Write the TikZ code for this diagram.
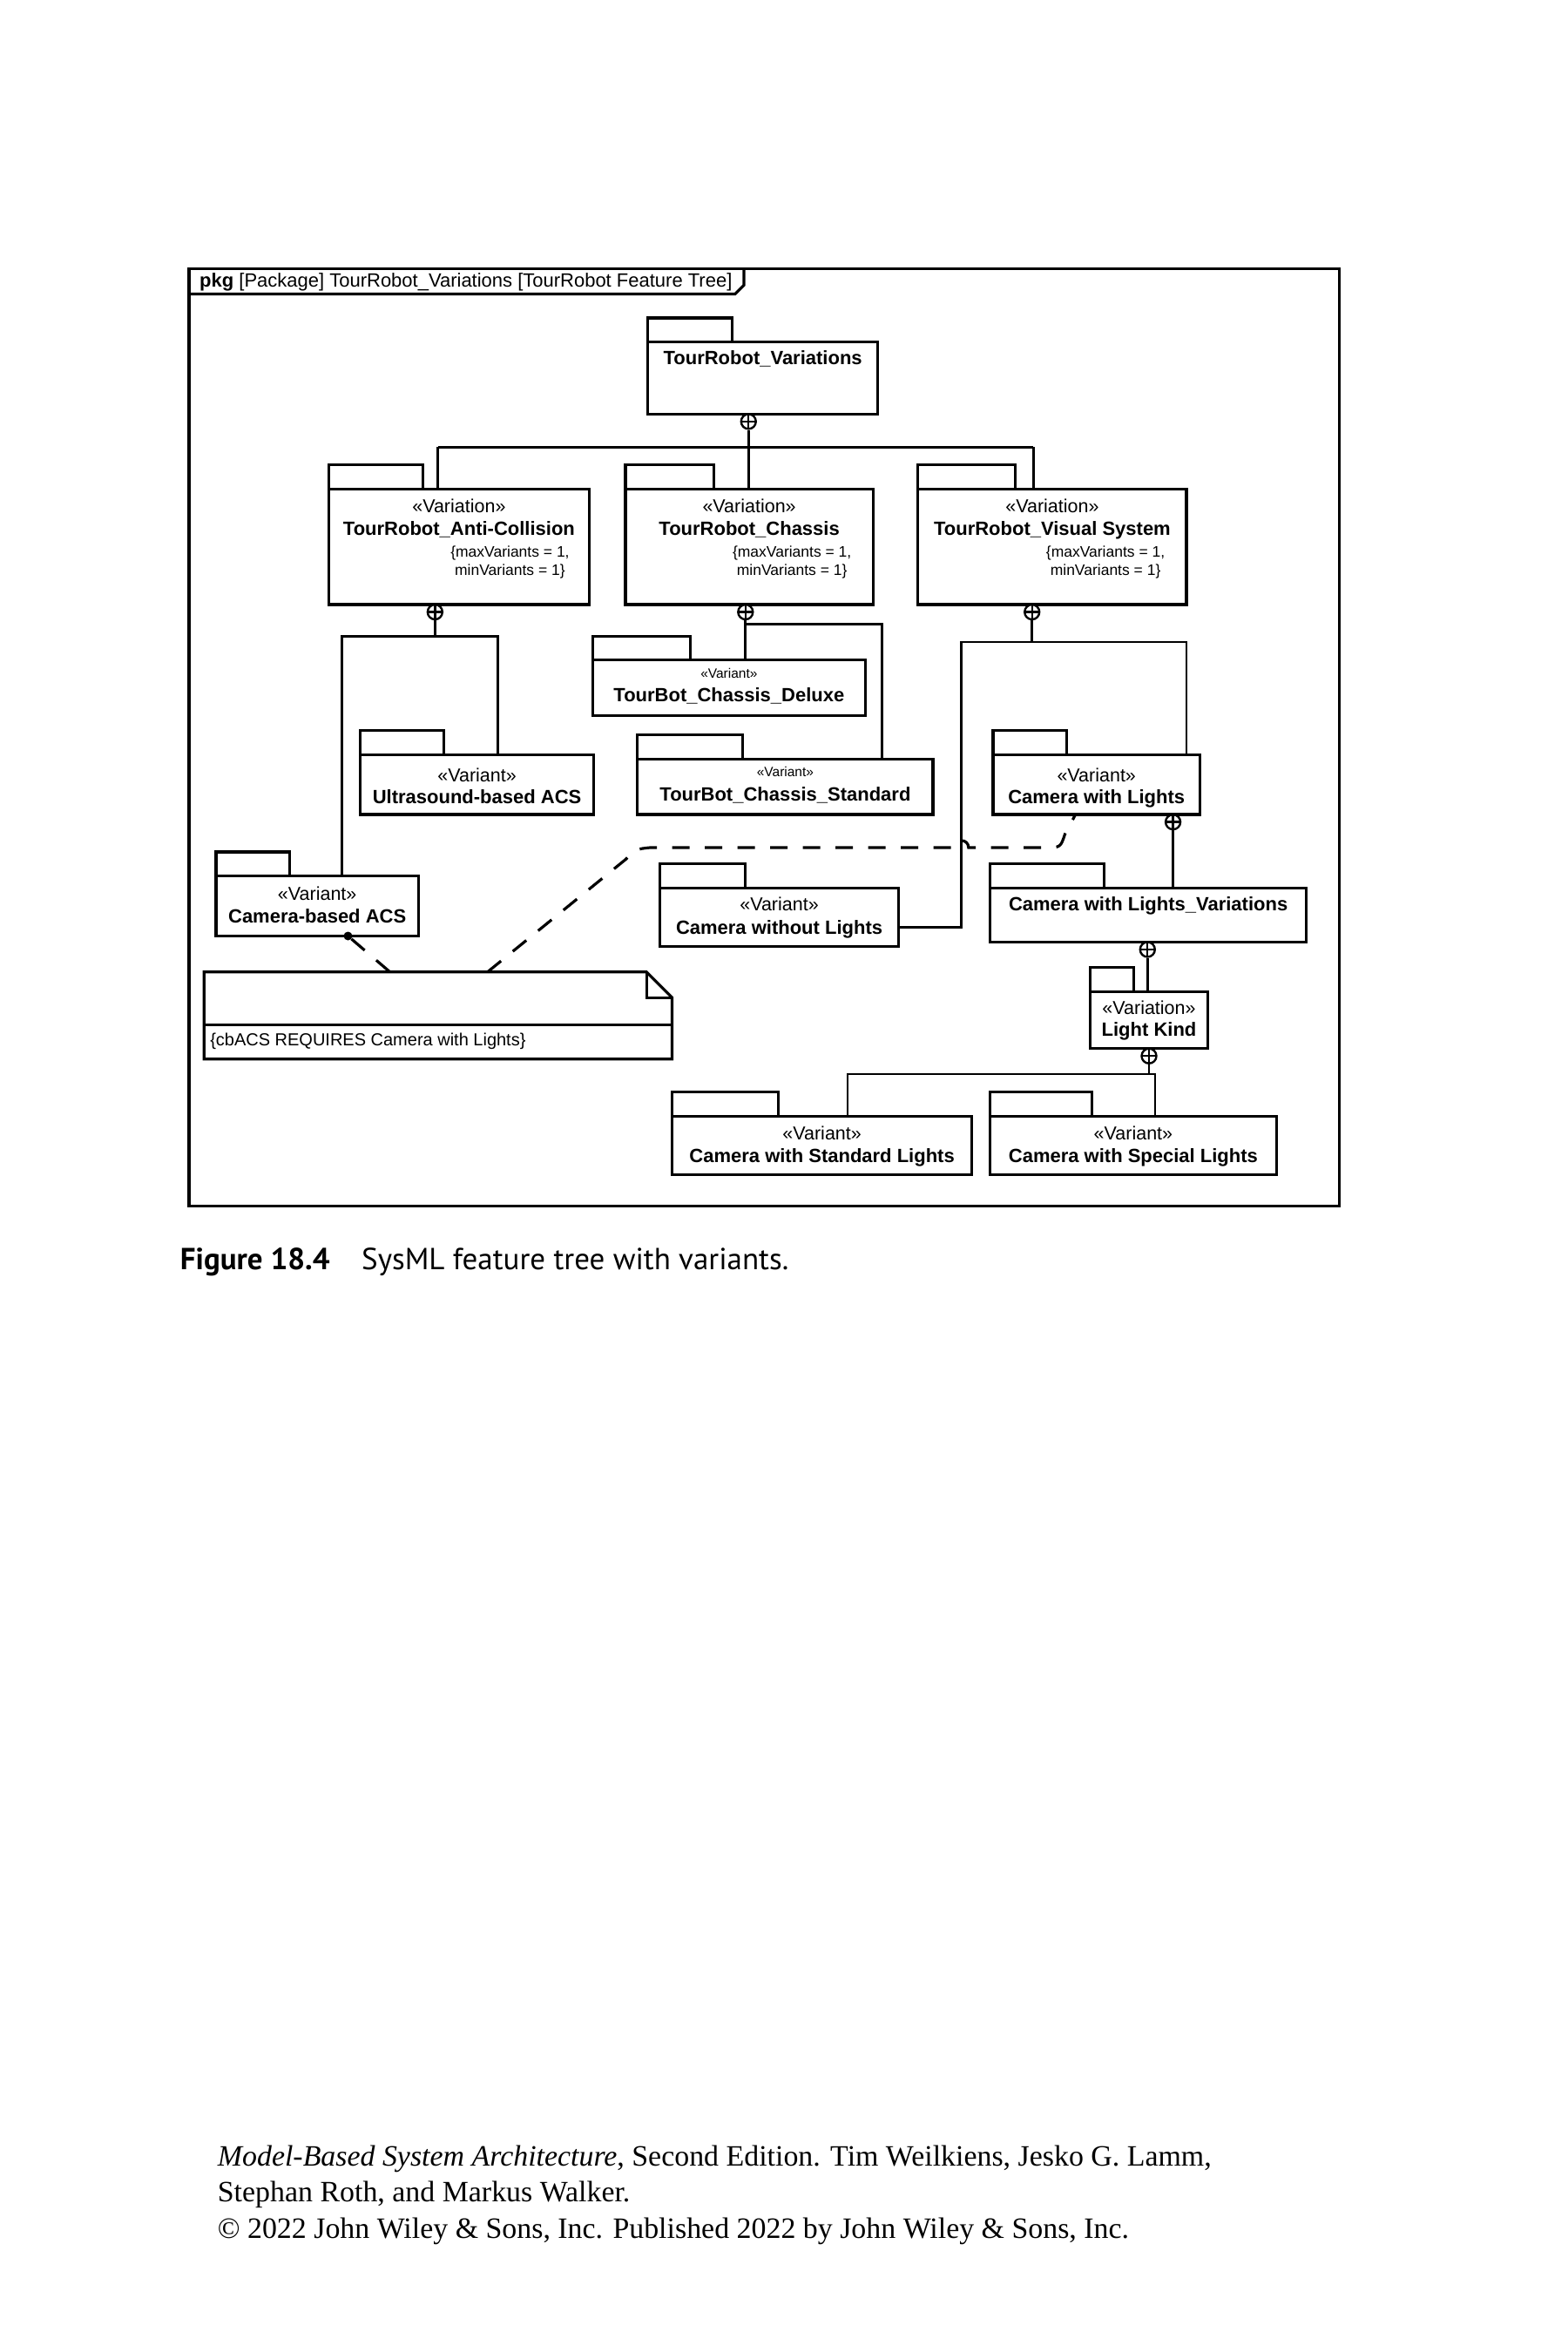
\documentclass[tikz,border=0pt]{standalone}
\usepackage{fontspec}
\setmainfont{Liberation Sans}
\newfontfamily\capfont{PT Sans}
\newfontfamily\footfont{Liberation Serif}
\usetikzlibrary{fit}
\tikzset{
 pkgb/.style={draw, line width=3.2pt, inner sep=0pt},
 tabline/.style={line width=3.2pt},
 conn/.style={line width=2.8pt},
 dsh/.style={line width=3.2pt, dash pattern=on 20pt off 17.5pt},
 nm/.style={font=\fontsize{22}{26}\selectfont\bfseries, inner sep=0pt, anchor=base},
 stt/.style={font=\fontsize{21.5}{25}\selectfont, inner sep=0pt, anchor=base},
 stsm/.style={font=\fontsize{15.5}{18}\selectfont, inner sep=0pt, anchor=base},
 cons/.style={font=\fontsize{17.5}{20}\selectfont, inner sep=0pt, anchor=base},
 comp/.style={circle, draw, line width=2.4pt, minimum size=17pt, inner sep=0pt, fill=white,
   path picture={\draw[line width=2.4pt] (path picture bounding box.north) -- (path picture bounding box.south) (path picture bounding box.west) -- (path picture bounding box.east);}},
}
\newcommand\pkgbox[6]{%
  \node[pkgb, fit={(#2,#3) (#4,#5)}] (#1) {};
  \draw[tabline] (#2,#3) -- (#2,#3-16) -- (#6,#3-16) -- (#6,#3);
}
\begin{document}
\begin{tikzpicture}[x=1.7225pt,y=-1.7225pt]
\useasboundingbox[fill=white] (0,0) rectangle (1045,1568);

% frame
\node[fit={(126,179) (893,804)}, draw, line width=3.2pt, inner sep=0pt] (frame) {};
\draw[tabline] (126,196) -- (490,196) -- (496,190) -- (496,179);
\node[font=\fontsize{22}{26}\selectfont, inner sep=0pt, anchor=base west] (hdr) at (133,191.5) {\textbf{pkg} [Package] TourRobot\_Variations [TourRobot Feature Tree]};

% packages
\pkgbox{trv}{432}{228}{585}{276}{488}
\pkgbox{ac}{219}{326}{393}{403}{282}
\pkgbox{ch}{417}{326}{582}{403}{476}
\pkgbox{vs}{612}{326}{791}{403}{677}
\pkgbox{us}{240}{503}{396}{543}{296}
\pkgbox{cba}{144}{584}{279}{624}{193}
\pkgbox{dl}{395}{440}{577}{477}{460}
\pkgbox{sd}{425}{506}{622}{543}{495}
\pkgbox{cwl}{662}{503}{800}{543}{711}
\pkgbox{cwo}{440}{592}{599}{631}{497}
\pkgbox{cwv}{660}{592}{871}{628}{736}
\pkgbox{lk}{727}{661}{805}{699}{756}
\pkgbox{csl}{448}{744}{648}{783}{519}
\pkgbox{spl}{660}{744}{851}{783}{728}

% texts
\node[nm] (trv-n) at (508.5,243) {TourRobot\_Variations};

\node[stt] (ac-s) at (306,342) {«Variation»};
\node[nm] (ac-n) at (306,357) {TourRobot\_Anti-Collision};
\node[cons] (ac-k1) at (340,371.5) {\{maxVariants = 1,};
\node[cons] (ac-k2) at (340,383.5) {minVariants = 1\}};

\node[stt] (ch-s) at (499.5,342) {«Variation»};
\node[nm] (ch-n) at (499.5,357) {TourRobot\_Chassis};
\node[cons] (ch-k1) at (528,371.5) {\{maxVariants = 1,};
\node[cons] (ch-k2) at (528,383.5) {minVariants = 1\}};

\node[stt] (vs-s) at (701.5,342) {«Variation»};
\node[nm] (vs-n) at (701.5,357) {TourRobot\_Visual System};
\node[cons] (vs-k1) at (737,371.5) {\{maxVariants = 1,};
\node[cons] (vs-k2) at (737,383.5) {minVariants = 1\}};

\node[stt] (us-s) at (318,521) {«Variant»};
\node[nm] (us-n) at (318,536) {Ultrasound-based ACS};

\node[stt] (cba-s) at (211.5,600) {«Variant»};
\node[nm] (cba-n) at (211.5,615) {Camera-based ACS};

\node[stsm] (dl-s) at (486,452) {«Variant»};
\node[nm] (dl-n) at (486,468) {TourBot\_Chassis\_Deluxe};

\node[stsm] (sd-s) at (523.5,518) {«Variant»};
\node[nm] (sd-n) at (523.5,534) {TourBot\_Chassis\_Standard};

\node[stt] (cwl-s) at (731,521) {«Variant»};
\node[nm] (cwl-n) at (731,536) {Camera with Lights};

\node[stt] (cwo-s) at (519.5,607) {«Variant»};
\node[nm] (cwo-n) at (519.5,623) {Camera without Lights};

\node[nm] (cwv-n) at (765.5,607) {Camera with Lights\_Variations};

\node[stt] (lk-s) at (766,676) {«Variation»};
\node[nm] (lk-n) at (766,691) {Light Kind};

\node[stt] (csl-s) at (548,760) {«Variant»};
\node[nm] (csl-n) at (548,775) {Camera with Standard Lights};

\node[stt] (spl-s) at (755.5,760) {«Variant»};
\node[nm] (spl-n) at (755.5,775) {Camera with Special Lights};

% composition markers
\node[comp] (trv-c) at (499,281) {};
\node[comp] (ac-c) at (290,408) {};
\node[comp] (ch-c) at (497,408) {};
\node[comp] (vs-c) at (688,408) {};
\node[comp] (cwl-c) at (782,548) {};
\node[comp] (cwv-c) at (765,633) {};
\node[comp] (lk-c) at (766,704) {};

% level 1 connectors
\coordinate (j1) at (292,298);
\coordinate (j3) at (689,298);
\draw[conn] (j1) -- (j3);
\draw[conn] (j1) -- (j1 |- ac.north);
\draw[conn] (j3) -- (j3 |- vs.north);
\draw[conn] (trv-c.south) -- (trv-c.south |- ch.north);

% anti-collision
\coordinate (k1) at (228,424);
\coordinate (k2) at (332,424);
\draw[conn] (ac-c.south) -- (ac-c.south |- k1);
\draw[conn] (k1 |- cba.north) -- (k1) -- (k2) -- (k2 |- us.north);

% chassis
\coordinate (m1) at (588,416);
\draw[conn] (ch-c.south) -- (ch-c.south |- dl.north);
\draw[conn] (ch-c.south |- m1) -- (m1) -- (m1 |- sd.north);

% visual system
\coordinate (n1) at (641,428);
\coordinate (n2) at (791,428);
\coordinate (n3) at (641,618);
\draw[conn] (vs-c.south) -- (vs-c.south |- n1);
\draw[conn] (n2 |- cwl.north) -- (n2) -- (n1) -- (n3) -- (n3 -| cwo.east);

% camera with lights
\draw[conn] (cwl-c.south) -- (cwl-c.south |- cwv.north);
\draw[conn] (cwv-c.south) -- (cwv-c.south |- lk.north);

% light kind
\coordinate (q1) at (565,716);
\coordinate (q2) at (770,716);
\draw[conn] (lk-c.south) -- (lk-c.south |- q1);
\draw[conn] (q1 |- csl.north) -- (q1) -- (q2) -- (q2 |- spl.north);

% note
\node[fit={(136,648) (448,706)}, inner sep=0pt] (note) {};
\draw[tabline] (136,648) -- (431,648) -- (448,665) -- (448,706) -- (136,706) -- cycle;
\draw[tabline] (431,648) -- (431,665) -- (448,665);
\draw[tabline] (136,683) -- (448,683);
\node[font=\fontsize{20}{24}\selectfont, inner sep=0pt, anchor=base west] (note-t) at (140,697) {\{cbACS REQUIRES Camera with Lights\}};

% dashed constraint links
\node[circle, fill, inner sep=0pt, minimum size=10pt] (dot) at (232,624) {};
\coordinate (e1) at (260,648);
\coordinate (e2) at (325,648);
\coordinate (e3) at (717,543);
\draw[dsh] (dot) -- (e1);
\draw[dsh] (e2) -- (417,573) .. controls (424,566) .. (434,565) -- (636.4,565) arc[start angle=180, end angle=0, radius=8pt] -- (697,565) .. controls (707,565) .. (710,556) -- (e3);

% caption
\node[font=\capfont\fontsize{35}{41}\selectfont\bfseries, anchor=base west, inner sep=0pt] (fig) at (120,846.5) {Figure 18.4};
\node[font=\capfont\fontsize{35}{41}\selectfont, anchor=base west, inner sep=0pt] (cap) at (241,846.5) {SysML feature tree with variants.};

% footer
\node[font=\footfont\fontsize{33.9}{41}\selectfont, anchor=base west, inner sep=0pt] (f1) at (145,1444) {\textit{Model-Based System Architecture}, Second Edition. Tim Weilkiens, Jesko G. Lamm,};
\node[font=\footfont\fontsize{33.9}{41}\selectfont, anchor=base west, inner sep=0pt] (f2) at (145,1468) {Stephan Roth, and Markus Walker.};
\node[font=\footfont\fontsize{33.9}{41}\selectfont, anchor=base west, inner sep=0pt] (f3) at (145,1492) {© 2022 John Wiley \& Sons, Inc. Published 2022 by John Wiley \& Sons, Inc.};
\end{tikzpicture}
\end{document}
